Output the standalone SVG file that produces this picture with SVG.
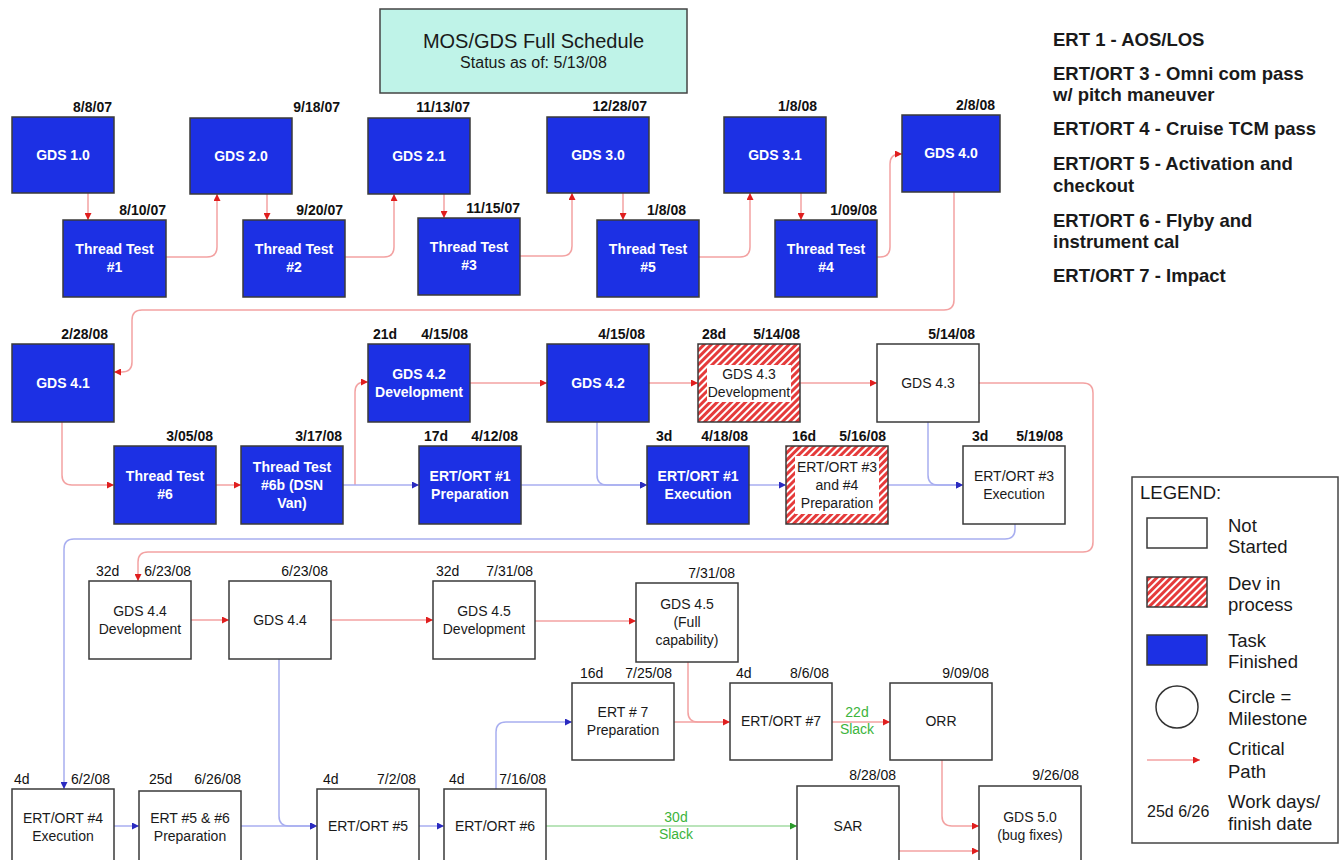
<svg xmlns="http://www.w3.org/2000/svg" width="1344" height="860" viewBox="0 0 1344 860">
<style>
text{font-family:"Liberation Sans",Arial,Helvetica,sans-serif}
.box{stroke:#3a3a3a;stroke-width:1.5}
.done{fill:#1c30e4}
.todo{fill:#fff}
.dev{fill:url(#hatch)}
.wt{font-size:14px;font-weight:bold;fill:#fff;text-anchor:middle}
.bt{font-size:14px;fill:#1a1a1a;text-anchor:middle}
.dt{font-size:14px;fill:#111;text-anchor:end}
.dl{font-size:14px;fill:#111;text-anchor:start}
.b{font-weight:bold}
.cr{fill:none;stroke:#f3a2a2;stroke-width:1.5;marker-end:url(#ar)}
.cr0{fill:none;stroke:#f3a2a2;stroke-width:1.5}
.cb{fill:none;stroke:#a8aef0;stroke-width:1.5;marker-end:url(#ab)}
.cg{fill:none;stroke:#a3dba3;stroke-width:1.5;marker-end:url(#ag)}
.gl{font-size:14px;fill:#3cb43c;text-anchor:middle}
.lst{font-size:18.5px;font-weight:bold;fill:#1a1a1a}
.lg{font-size:18.5px;fill:#1a1a1a}
</style>
<defs>
<pattern id="hatch" width="5" height="5" patternUnits="userSpaceOnUse" patternTransform="rotate(45)">
<rect width="5" height="5" fill="#fff"/>
<rect width="3" height="5" fill="#e53b3b"/>
</pattern>
<marker id="ar" viewBox="0 0 10 10" refX="10" refY="5" markerWidth="7" markerHeight="7" markerUnits="userSpaceOnUse" orient="auto"><path d="M0,0 L10,5 L0,10 z" fill="#e01e1e"/></marker>
<marker id="ab" viewBox="0 0 10 10" refX="10" refY="5" markerWidth="7" markerHeight="7" markerUnits="userSpaceOnUse" orient="auto"><path d="M0,0 L10,5 L0,10 z" fill="#2a2ac0"/></marker>
<marker id="ag" viewBox="0 0 10 10" refX="10" refY="5" markerWidth="7" markerHeight="7" markerUnits="userSpaceOnUse" orient="auto"><path d="M0,0 L10,5 L0,10 z" fill="#2a9a2a"/></marker>
</defs>
<rect width="1344" height="860" fill="#fff"/>

<g id="title">
<rect x="380" y="9" width="307" height="84" fill="#bff3e8" stroke="#444" stroke-width="1.5"/>
<text x="533.5" y="48" font-size="20" text-anchor="middle" fill="#1a1a1a">MOS/GDS Full Schedule</text>
<text x="533.5" y="68" font-size="16" text-anchor="middle" fill="#1a1a1a">Status as of: 5/13/08</text>
</g>

<g id="ert-list">
<text class="lst" x="1053" y="46">ERT 1 - AOS/LOS</text>
<text class="lst" x="1053" y="80">ERT/ORT 3 - Omni com pass</text>
<text class="lst" x="1053" y="101">w/ pitch maneuver</text>
<text class="lst" x="1053" y="135">ERT/ORT 4 - Cruise TCM pass</text>
<text class="lst" x="1053" y="170">ERT/ORT 5 - Activation and</text>
<text class="lst" x="1053" y="192">checkout</text>
<text class="lst" x="1053" y="227">ERT/ORT 6 - Flyby and</text>
<text class="lst" x="1053" y="248">instrument cal</text>
<text class="lst" x="1053" y="282">ERT/ORT 7 - Impact</text>
</g>

<g id="connectors">
<path class="cr" d="M88,193 V220"/>
<path class="cr" d="M166,257 H207 Q217,257 217,247 V194"/>
<path class="cr" d="M267,194 V220"/>
<path class="cr" d="M345,257 H384 Q394,257 394,247 V194"/>
<path class="cr" d="M444,194 V218"/>
<path class="cr" d="M520,256 H562 Q572,256 572,246 V193"/>
<path class="cr" d="M623,193 V220"/>
<path class="cr" d="M699,257 H740 Q750,257 750,247 V193"/>
<path class="cr" d="M801,193 V220"/>
<path class="cr" d="M877,257 H880 Q890,257 890,247 V164 Q890,154 900,154 H902"/>
<path class="cr" d="M954,192 V300 Q954,310 944,310 H142 Q132,310 132,320 V362 Q132,372 122,372 H114"/>
<path class="cr" d="M62,422 V475 Q62,485 72,485 H114"/>
<path class="cr" d="M216,485 H241"/>
<path class="cr" d="M355,485 V392 Q355,382 365,382 H368"/>
<path class="cr" d="M470,383 H547"/>
<path class="cr" d="M649,383 H698"/>
<path class="cr" d="M800,383 H877"/>
<path class="cr" d="M979,383 H1083 Q1093,383 1093,393 V542 Q1093,552 1083,552 H148 Q138,552 138,562 V581"/>
<path class="cr" d="M191,620 H229"/>
<path class="cr" d="M331,620 H433"/>
<path class="cr" d="M535,621 H636"/>
<path class="cr0" d="M674,722 H725"/>
<path class="cr" d="M688,662 V712 Q688,722 698,722 H730"/>
<path class="cr" d="M832,722 H890"/>
<path class="cr" d="M942,760 V816 Q942,826 952,826 H979"/>
<path class="cr" d="M899,851 H979"/>
<path class="cb" d="M343,485 H419"/>
<path class="cb" d="M521,485 H647"/>
<path class="cb" d="M597,422 V475 Q597,485 607,485 H647"/>
<path class="cb" d="M749,485 H786"/>
<path class="cb" d="M888,485 H963"/>
<path class="cb" d="M928,422 V475 Q928,485 938,485 H963"/>
<path class="cb" d="M1015,524 V529 Q1015,539 1005,539 H74 Q64,539 64,549 V789"/>
<path class="cb" d="M114,826 H139"/>
<path class="cb" d="M241,826 H317"/>
<path class="cb" d="M279,659 V816 Q279,826 289,826 H317"/>
<path class="cb" d="M419,826 H444"/>
<path class="cb" d="M496,789 V732 Q496,722 506,722 H572"/>
<path class="cg" d="M546,826 H797"/>
<text class="gl" x="857" y="717">22d</text>
<text class="gl" x="857" y="734">Slack</text>
<text class="gl" x="676" y="822">30d</text>
<text class="gl" x="676" y="839">Slack</text>
</g>

<!-- Row 1 -->
<g id="gds10"><rect class="box done" x="12" y="117" width="102" height="76"/><text class="wt" x="63" y="160">GDS 1.0</text><text class="dt b" x="112" y="112">8/8/07</text></g>
<g id="gds20"><rect class="box done" x="190" y="118" width="102" height="76"/><text class="wt" x="241" y="161">GDS 2.0</text><text class="dt b" x="340" y="112">9/18/07</text></g>
<g id="gds21"><rect class="box done" x="368" y="118" width="102" height="76"/><text class="wt" x="419" y="161">GDS 2.1</text><text class="dt b" x="470" y="112">11/13/07</text></g>
<g id="gds30"><rect class="box done" x="547" y="117" width="102" height="76"/><text class="wt" x="598" y="160">GDS 3.0</text><text class="dt b" x="647" y="111">12/28/07</text></g>
<g id="gds31"><rect class="box done" x="724" y="117" width="102" height="76"/><text class="wt" x="775" y="160">GDS 3.1</text><text class="dt b" x="817" y="111">1/8/08</text></g>
<g id="gds40"><rect class="box done" x="902" y="115" width="98" height="77"/><text class="wt" x="951" y="158">GDS 4.0</text><text class="dt b" x="995" y="110">2/8/08</text></g>

<g id="tt1"><rect class="box done" x="63" y="220" width="103" height="77"/><text class="wt" x="114.5" y="254">Thread Test</text><text class="wt" x="114.5" y="272">#1</text><text class="dt b" x="166" y="215">8/10/07</text></g>
<g id="tt2"><rect class="box done" x="243" y="220" width="102" height="77"/><text class="wt" x="294" y="254">Thread Test</text><text class="wt" x="294" y="272">#2</text><text class="dt b" x="343" y="215">9/20/07</text></g>
<g id="tt3"><rect class="box done" x="418" y="218" width="102" height="77"/><text class="wt" x="469" y="252">Thread Test</text><text class="wt" x="469" y="270">#3</text><text class="dt b" x="520" y="213">11/15/07</text></g>
<g id="tt5"><rect class="box done" x="597" y="220" width="102" height="77"/><text class="wt" x="648" y="254">Thread Test</text><text class="wt" x="648" y="272">#5</text><text class="dt b" x="686" y="215">1/8/08</text></g>
<g id="tt4"><rect class="box done" x="775" y="220" width="102" height="77"/><text class="wt" x="826" y="254">Thread Test</text><text class="wt" x="826" y="272">#4</text><text class="dt b" x="877" y="215">1/09/08</text></g>

<!-- Row 2 -->
<g id="gds41"><rect class="box done" x="12" y="344" width="102" height="78"/><text class="wt" x="63" y="388">GDS 4.1</text><text class="dt b" x="108" y="339">2/28/08</text></g>
<g id="gds42dev"><rect class="box done" x="368" y="344" width="102" height="78"/><text class="wt" x="419" y="379">GDS 4.2</text><text class="wt" x="419" y="397">Development</text><text class="dl b" x="373" y="339">21d</text><text class="dt b" x="468" y="339">4/15/08</text></g>
<g id="gds42"><rect class="box done" x="547" y="344" width="102" height="78"/><text class="wt" x="598" y="388">GDS 4.2</text><text class="dt b" x="645" y="339">4/15/08</text></g>
<g id="gds43dev"><rect class="box dev" x="698" y="344" width="102" height="78"/><rect x="707" y="365" width="84" height="37" fill="#fff"/><text class="bt" x="749" y="379">GDS 4.3</text><text class="bt" x="749" y="397">Development</text><text class="dl b" x="702" y="339">28d</text><text class="dt b" x="800" y="339">5/14/08</text></g>
<g id="gds43"><rect class="box todo" x="877" y="344" width="102" height="78"/><text class="bt" x="928" y="388">GDS 4.3</text><text class="dt b" x="975" y="339">5/14/08</text></g>

<g id="tt6"><rect class="box done" x="114" y="446" width="102" height="78"/><text class="wt" x="165" y="481">Thread Test</text><text class="wt" x="165" y="499">#6</text><text class="dt b" x="213" y="441">3/05/08</text></g>
<g id="tt6b"><rect class="box done" x="241" y="446" width="102" height="78"/><text class="wt" x="292" y="472">Thread Test</text><text class="wt" x="292" y="490">#6b (DSN</text><text class="wt" x="292" y="508">Van)</text><text class="dt b" x="342" y="441">3/17/08</text></g>
<g id="ert1prep"><rect class="box done" x="419" y="446" width="102" height="78"/><text class="wt" x="470" y="481">ERT/ORT #1</text><text class="wt" x="470" y="499">Preparation</text><text class="dl b" x="424" y="441">17d</text><text class="dt b" x="518" y="441">4/12/08</text></g>
<g id="ert1exec"><rect class="box done" x="647" y="446" width="102" height="78"/><text class="wt" x="698" y="481">ERT/ORT #1</text><text class="wt" x="698" y="499">Execution</text><text class="dl b" x="656" y="441">3d</text><text class="dt b" x="748" y="441">4/18/08</text></g>
<g id="ert34prep"><rect class="box dev" x="786" y="446" width="102" height="78"/><rect x="795" y="456" width="84" height="58" fill="#fff"/><text class="bt" x="837" y="472">ERT/ORT #3</text><text class="bt" x="837" y="490">and #4</text><text class="bt" x="837" y="508">Preparation</text><text class="dl b" x="792" y="441">16d</text><text class="dt b" x="886" y="441">5/16/08</text></g>
<g id="ert3exec"><rect class="box todo" x="963" y="446" width="102" height="78"/><text class="bt" x="1014" y="481">ERT/ORT #3</text><text class="bt" x="1014" y="499">Execution</text><text class="dl b" x="972" y="441">3d</text><text class="dt b" x="1063" y="441">5/19/08</text></g>

<!-- Row 3 -->
<g id="gds44dev"><rect class="box todo" x="89" y="581" width="102" height="78"/><text class="bt" x="140" y="616">GDS 4.4</text><text class="bt" x="140" y="634">Development</text><text class="dl" x="96" y="576">32d</text><text class="dt" x="191" y="576">6/23/08</text></g>
<g id="gds44"><rect class="box todo" x="229" y="581" width="102" height="78"/><text class="bt" x="280" y="625">GDS 4.4</text><text class="dt" x="328" y="576">6/23/08</text></g>
<g id="gds45dev"><rect class="box todo" x="433" y="581" width="102" height="78"/><text class="bt" x="484" y="616">GDS 4.5</text><text class="bt" x="484" y="634">Development</text><text class="dl" x="436" y="576">32d</text><text class="dt" x="533" y="576">7/31/08</text></g>
<g id="gds45fc"><rect class="box todo" x="636" y="583" width="102" height="79"/><text class="bt" x="687" y="609">GDS 4.5</text><text class="bt" x="687" y="627">(Full</text><text class="bt" x="687" y="645">capability)</text><text class="dt" x="735" y="578">7/31/08</text></g>

<g id="ert7prep"><rect class="box todo" x="572" y="683" width="102" height="77"/><text class="bt" x="623" y="717">ERT # 7</text><text class="bt" x="623" y="735">Preparation</text><text class="dl" x="580" y="678">16d</text><text class="dt" x="672" y="678">7/25/08</text></g>
<g id="ert7"><rect class="box todo" x="730" y="683" width="102" height="77"/><text class="bt" x="781" y="726">ERT/ORT #7</text><text class="dl" x="736" y="678">4d</text><text class="dt" x="829" y="678">8/6/08</text></g>
<g id="orr"><rect class="box todo" x="890" y="683" width="102" height="77"/><text class="bt" x="941" y="726">ORR</text><text class="dt" x="989" y="678">9/09/08</text></g>

<!-- Row 4 -->
<g id="ert4exec"><rect class="box todo" x="12" y="789" width="102" height="74"/><text class="bt" x="63" y="823">ERT/ORT #4</text><text class="bt" x="63" y="841">Execution</text><text class="dl" x="14" y="784">4d</text><text class="dt" x="110" y="784">6/2/08</text></g>
<g id="ert56prep"><rect class="box todo" x="139" y="791" width="102" height="72"/><text class="bt" x="190" y="823">ERT #5 &amp; #6</text><text class="bt" x="190" y="841">Preparation</text><text class="dl" x="149" y="784">25d</text><text class="dt" x="241" y="784">6/26/08</text></g>
<g id="ert5"><rect class="box todo" x="317" y="789" width="102" height="74"/><text class="bt" x="368" y="831">ERT/ORT #5</text><text class="dl" x="323" y="784">4d</text><text class="dt" x="416" y="784">7/2/08</text></g>
<g id="ert6"><rect class="box todo" x="444" y="789" width="102" height="74"/><text class="bt" x="495" y="831">ERT/ORT #6</text><text class="dl" x="449" y="784">4d</text><text class="dt" x="546" y="784">7/16/08</text></g>
<g id="sar"><rect class="box todo" x="797" y="786" width="102" height="77"/><text class="bt" x="848" y="831">SAR</text><text class="dt" x="896" y="780">8/28/08</text></g>
<g id="gds50"><rect class="box todo" x="979" y="786" width="102" height="77"/><text class="bt" x="1030" y="822">GDS 5.0</text><text class="bt" x="1030" y="840">(bug fixes)</text><text class="dt" x="1079" y="780">9/26/08</text></g>

<g id="legend">
<rect x="1132" y="477" width="206" height="366" fill="#fff" stroke="#444" stroke-width="1.5"/>
<text class="lg" x="1140" y="499">LEGEND:</text>
<rect class="box todo" x="1147" y="518" width="60" height="30"/>
<text class="lg" x="1228" y="532">Not</text><text class="lg" x="1228" y="553">Started</text>
<rect class="box dev" x="1147" y="577" width="60" height="30"/>
<text class="lg" x="1228" y="590">Dev in</text><text class="lg" x="1228" y="611">process</text>
<rect class="box done" x="1147" y="635" width="60" height="30"/>
<text class="lg" x="1228" y="647">Task</text><text class="lg" x="1228" y="668">Finished</text>
<circle cx="1177" cy="707" r="21" fill="#fff" stroke="#333" stroke-width="1.5"/>
<text class="lg" x="1228" y="703">Circle =</text><text class="lg" x="1228" y="725">Milestone</text>
<path class="cr" d="M1147,760 H1200"/>
<text class="lg" x="1228" y="755">Critical</text><text class="lg" x="1228" y="778">Path</text>
<text x="1147" y="817" font-size="16" fill="#1a1a1a">25d  6/26</text>
<text class="lg" x="1228" y="808">Work days/</text><text class="lg" x="1228" y="830">finish date</text>
</g>
</svg>
